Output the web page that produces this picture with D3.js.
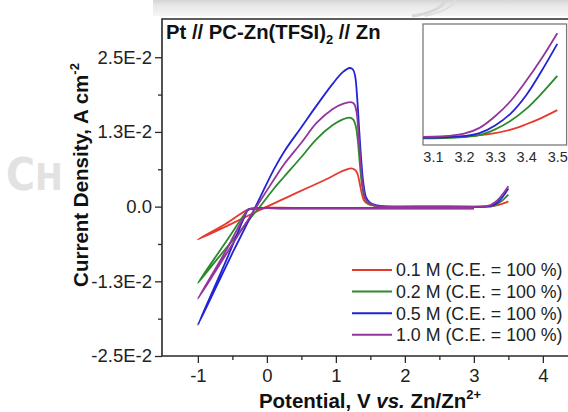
<!DOCTYPE html>
<html><head><meta charset="utf-8">
<script src="https://cdn.jsdelivr.net/npm/d3@7"></script>
<style>html,body{margin:0;padding:0;background:#fff;} svg{display:block;font-family:"Liberation Sans",Arial,Helvetica,sans-serif;}</style>
</head><body><svg id="chart" width="568" height="412"></svg>
<script>
// ---------- data ----------
const potentialTicks = [-1, 0, 1, 2, 3, 4];
const potentialTickLabels = ["-1", "0", "1", "2", "3", "4"];
const potentialMinorTicks = [-0.5, 0.5, 1.5, 2.5, 3.5, 4.5];
const currentTicks = [-0.025, -0.0125, 0, 0.0125, 0.025];
const currentTickLabels = ["-2.5E-2", "-1.3E-2", "0.0", "1.3E-2", "2.5E-2"];
const currentMinorTicks = [-0.01875, -0.00625, 0.00625, 0.01875];
const insetTicks = [3.1, 3.2, 3.3, 3.4, 3.5];
const seriesLabels = ["0.1 M (C.E. = 100 %)", "0.2 M (C.E. = 100 %)", "0.5 M (C.E. = 100 %)", "1.0 M (C.E. = 100 %)"];
const seriesColors = ["#e63a2e", "#2b8a2b", "#2323d6", "#93359a"];

// [potential V, current A cm-2]
const cv01 = [[3.0,-0.0002],[2.2,-0.0002],[1.0,-0.0002],[0.4,-0.0002],[-0.1,-0.0002],[-0.27,-0.0005],[-0.6,-0.0029],[-1.0,-0.0055],
  [-0.5,-0.0028],[0.0,0.0],[0.3,0.0016],[0.6,0.0032],[0.9,0.0048],[1.05,0.0057],[1.15,0.0062],[1.22,0.0064],[1.27,0.0062],[1.31,0.0056],[1.34,0.0042],[1.37,0.0025],[1.41,0.0010],[1.47,0.0004],[1.6,0.0001],[1.75,0.0],[2.4,0.0],
  [3.0,-0.00002],[3.1,0.0],[3.2,0.00003],[3.25,0.00006],[3.3,0.00013],[3.35,0.00024],[3.4,0.00042],[3.45,0.00063],[3.5,0.00088]];
const cv02 = [[3.0,-0.0003],[2.2,-0.0003],[1.0,-0.0003],[0.4,-0.0003],[-0.15,-0.0003],[-0.27,-0.0005],[-0.32,-0.0012],[-0.6,-0.0060],[-1.0,-0.0128],
  [-0.75,-0.0092],[-0.5,-0.0057],[-0.25,-0.0021],[-0.1,0.0],[0.1,0.0030],[0.25,0.0050],[0.5,0.0083],[0.72,0.0113],[0.95,0.0136],[1.1,0.0146],[1.19,0.0149],[1.25,0.0146],[1.29,0.0134],[1.32,0.0108],[1.35,0.0068],[1.38,0.0035],[1.42,0.0014],[1.48,0.0005],[1.6,0.0001],[1.75,0.0],[2.4,0.0],
  [3.0,-0.00005],[3.1,-0.00004],[3.2,0.0],[3.25,0.00006],[3.3,0.00025],[3.35,0.00053],[3.4,0.00092],[3.45,0.00143],[3.5,0.00200]];
const cv05 = [[3.0,-0.0003],[2.2,-0.0003],[1.0,-0.0003],[0.4,-0.0003],[-0.15,-0.0003],[-0.27,-0.0005],[-0.32,-0.0016],[-0.6,-0.0093],[-1.0,-0.0198],
  [-0.75,-0.0138],[-0.5,-0.0078],[-0.25,-0.0020],[-0.1,0.0015],[0.1,0.0062],[0.25,0.0092],[0.5,0.0133],[0.72,0.0169],[0.95,0.0205],[1.1,0.0225],[1.2,0.0232],[1.25,0.0229],[1.28,0.0218],[1.31,0.0180],[1.34,0.0125],[1.37,0.0075],[1.40,0.0038],[1.44,0.0015],[1.5,0.0006],[1.6,0.0002],[1.75,0.0],[2.4,0.0],
  [3.0,-0.00003],[3.1,-0.00002],[3.15,0.0],[3.2,0.00003],[3.25,0.00013],[3.3,0.00038],[3.35,0.00077],[3.4,0.00137],[3.45,0.00217],[3.5,0.00305]];
const cv10 = [[3.0,-0.0003],[2.2,-0.0003],[1.0,-0.0003],[0.4,-0.0003],[-0.15,-0.0003],[-0.27,-0.0005],[-0.32,-0.0014],[-0.6,-0.0075],[-1.0,-0.0154],
  [-0.75,-0.0109],[-0.5,-0.0063],[-0.25,-0.0018],[-0.1,0.0009],[0.1,0.0045],[0.25,0.0071],[0.5,0.0107],[0.72,0.0140],[0.95,0.0163],[1.1,0.0172],[1.23,0.01745],[1.27,0.0171],[1.3,0.0158],[1.33,0.0120],[1.36,0.0072],[1.39,0.0035],[1.43,0.0013],[1.5,0.0005],[1.6,0.0001],[1.75,0.0],[2.4,0.0],
  [3.0,0.0],[3.1,0.00001],[3.15,0.00004],[3.2,0.00011],[3.25,0.00030],[3.3,0.00068],[3.35,0.00118],[3.4,0.00184],[3.45,0.00258],[3.5,0.0034]];
const seriesData = [cv01, cv02, cv05, cv10];

// ---------- layout ----------
const svg = d3.select("#chart");
const defs = svg.append("defs");

// background watermark bits
const grad = defs.append("linearGradient").attr("id","topbar").attr("x1",0).attr("y1",0).attr("x2",0).attr("y2",1);
grad.append("stop").attr("offset","0").attr("stop-color","#d4d4d4");
grad.append("stop").attr("offset","0.3").attr("stop-color","#e6e6e6");
grad.append("stop").attr("offset","1").attr("stop-color","#f6f6f6");
svg.append("rect").attr("x",153).attr("y",0).attr("width",415).attr("height",16).attr("fill","url(#topbar)");
svg.append("path").attr("d","M412,16 Q440,12 446,0").attr("fill","none").attr("stroke","#d8d8d8").attr("stroke-width",3);
svg.append("path").attr("d","M425,16 Q452,10 455,0").attr("fill","none").attr("stroke","#dedede").attr("stroke-width",2);
defs.append("clipPath").attr("id","wmclip").append("rect").attr("x",0).attr("y",0).attr("width",64).attr("height",412);
const wm = svg.append("text").attr("clip-path","url(#wmclip)").attr("x",6).attr("y",190)
  .attr("fill","#e2e2e2").attr("font-family","'DejaVu Sans Condensed','Liberation Sans Narrow',sans-serif").attr("font-weight","bold");
wm.append("tspan").attr("font-size",44).text("C");
wm.append("tspan").attr("font-size",37).text("HU");

const pL = 162, pT = 19, pB = 356, pR = 568;
const x = d3.scaleLinear().domain([-1.52, 4.55]).range([162, 580.8]);
const y = d3.scaleLinear().domain([-0.025, 0.0314]).range([pB, pT]);

const axisColor = "#2a2a2a";
const tickFont = 18.5;

// curves
const line = d3.line().x(d => x(d[0])).y(d => y(d[1])).curve(d3.curveCatmullRom.alpha(0.5));
defs.append("clipPath").attr("id","plotclip").append("rect").attr("x",pL).attr("y",pT).attr("width",pR-pL).attr("height",pB-pT);
const plot = svg.append("g").attr("clip-path","url(#plotclip)");
seriesData.forEach((s,i) => {
  plot.append("path").datum(s).attr("d", line).attr("fill","none")
    .attr("stroke", seriesColors[i]).attr("stroke-width",1.8).attr("stroke-linejoin","round");
});

// y axis
const gy = svg.append("g").attr("transform",`translate(${pL},0)`);
gy.call(d3.axisLeft(y).tickValues(currentTicks).tickFormat((d,i)=>currentTickLabels[i]).tickSize(7).tickPadding(3).tickSizeOuter(0));
gy.select(".domain").remove();
gy.selectAll("line").attr("stroke",axisColor).attr("stroke-width",1.3);
gy.selectAll("text").attr("font-size",tickFont).attr("fill","#222").attr("font-family","'Liberation Sans',Arial,sans-serif");
const gy2 = svg.append("g").attr("transform",`translate(${pL},0)`);
gy2.call(d3.axisLeft(y).tickValues(currentMinorTicks).tickFormat("").tickSize(4).tickSizeOuter(0));
gy2.select(".domain").remove();
gy2.selectAll("line").attr("stroke",axisColor).attr("stroke-width",1.3);

// x axis
const gx = svg.append("g").attr("transform",`translate(0,${pB})`);
gx.call(d3.axisBottom(x).tickValues(potentialTicks).tickFormat((d,i)=>potentialTickLabels[i]).tickSize(7).tickPadding(6).tickSizeOuter(0));
gx.select(".domain").remove();
gx.selectAll("line").attr("stroke",axisColor).attr("stroke-width",1.3);
gx.selectAll("text").attr("font-size",tickFont).attr("fill","#222").attr("font-family","'Liberation Sans',Arial,sans-serif");
const gx2 = svg.append("g").attr("transform",`translate(0,${pB})`);
gx2.call(d3.axisBottom(x).tickValues(potentialMinorTicks).tickFormat("").tickSize(4).tickSizeOuter(0));
gx2.select(".domain").remove();
gx2.selectAll("line").attr("stroke",axisColor).attr("stroke-width",1.3);

// frame lines
svg.append("path").attr("d",`M${pR},${pT}H${pL}V${pB}H${pR}`).attr("fill","none").attr("stroke",axisColor).attr("stroke-width",1.6);

// title
const title = svg.append("text").attr("x",166).attr("y",38.5).attr("font-size",20.3).attr("font-weight","bold").attr("fill","#111");
title.append("tspan").text("Pt // PC-Zn(TFSI)");
title.append("tspan").attr("font-size",13).attr("dy",5).text("2");
title.append("tspan").attr("dy",-5).text(" // Zn");

// axis titles
const xt = svg.append("text").attr("x",370).attr("y",408).attr("text-anchor","middle").attr("font-size",20.5).attr("font-weight","bold").attr("fill","#111");
xt.append("tspan").text("Potential, V ");
xt.append("tspan").attr("font-style","italic").text("vs.");
xt.append("tspan").text(" Zn/Zn");
xt.append("tspan").attr("font-size",13).attr("dy",-9).text("2+");

const yt = svg.append("text").attr("transform","translate(88,175) rotate(-90)").attr("text-anchor","middle").attr("font-size",20.5).attr("font-weight","bold").attr("fill","#111");
yt.append("tspan").text("Current Density, A cm");
yt.append("tspan").attr("font-size",13).attr("dy",-9).text("-2");

// legend
const lg = svg.append("g");
seriesLabels.forEach((lab,i) => {
  const ly = 270 + i*21.6;
  lg.append("line").attr("x1",352).attr("x2",392).attr("y1",ly).attr("y2",ly).attr("stroke",seriesColors[i]).attr("stroke-width",2);
  lg.append("text").attr("x",396).attr("y",ly).attr("dy","0.36em").attr("font-size",17.8).attr("fill","#222").text(lab);
});

// inset
const iL = 423, iR = 566.6, iT = 24, iB = 145;
const xi = d3.scaleLinear().domain([3.068, 3.53]).range([iL, iR]);
const yi = d3.scaleLinear().domain([-0.00026, 0.0037]).range([iB, iT]);
svg.append("rect").attr("x",iL).attr("y",iT).attr("width",iR-iL).attr("height",iB-iT).attr("fill","#fff").attr("stroke","#7a7a7a").attr("stroke-width",1.3);
defs.append("clipPath").attr("id","insetclip").append("rect").attr("x",iL).attr("y",iT).attr("width",iR-iL).attr("height",iB-iT);
const iline = d3.line().x(d => xi(d[0])).y(d => yi(d[1])).curve(d3.curveCatmullRom.alpha(0.5));
const ig = svg.append("g").attr("clip-path","url(#insetclip)");
seriesData.forEach((s,i) => {
  const part = s.filter((d,k) => d[0] >= 2.9 && k > 10);
  ig.append("path").datum(part).attr("d", iline).attr("fill","none").attr("stroke",seriesColors[i]).attr("stroke-width",1.8);
});
const gi = svg.append("g").attr("transform",`translate(0,${iB})`);
gi.call(d3.axisBottom(xi).tickValues(insetTicks).tickFormat(d3.format(".1f")).tickSize(0).tickPadding(7).tickSizeOuter(0));
gi.select(".domain").remove();
gi.selectAll("text").attr("font-size",14.5).attr("fill","#2a2a2a").attr("font-family","'Liberation Sans',Arial,sans-serif");
</script></body></html>
